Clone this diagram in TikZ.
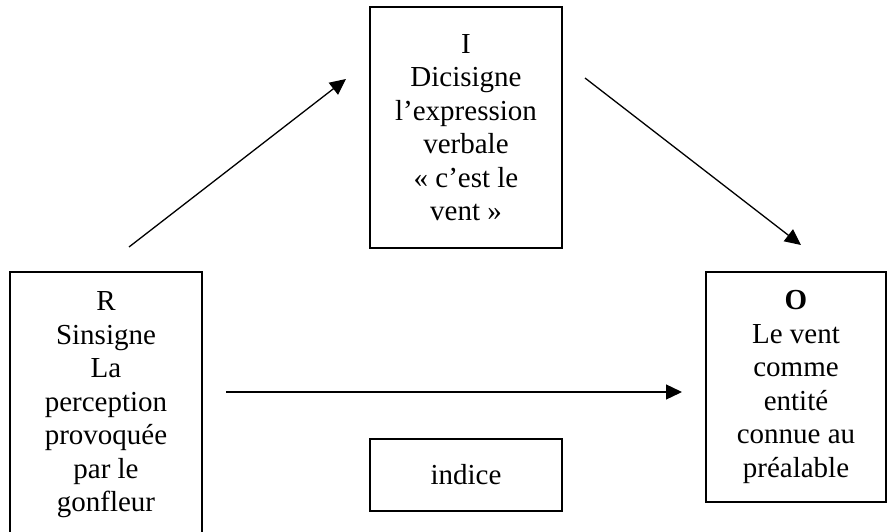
\documentclass[tikz,border=0pt]{standalone}
\usepackage{fontspec}
\setmainfont{Liberation Serif}
\usetikzlibrary{arrows.meta}
\begin{document}
\begin{tikzpicture}[x=1pt,y=-1pt,
  box/.style={draw, line width=1.4pt, align=center, inner sep=0pt,
    font=\fontsize{29}{33.5}\selectfont},
  conn/.style={line width=1.3pt, -{Triangle[length=16pt,width=15pt]}}]
\useasboundingbox (0,0) rectangle (887,532);
\node[box, minimum width=192pt, minimum height=266pt] (R) at (106,405)
  {R\\Sinsigne\\La\\perception\\provoquée\\par le\\gonfleur};
\node[box, minimum width=192pt, minimum height=241pt] (I) at (466,127.5)
  {I\\Dicisigne\\l’expression\\verbale\\« c’est le\\vent »};
\node[box, minimum width=180pt, minimum height=230pt] (O) at (796,387)
  {\textbf{O}\\Le vent\\comme\\entité\\connue au\\préalable};
\node[box, minimum width=192pt, minimum height=72pt] (ind) at (466,475)
  {indice};
\coordinate (a1s) at (129,247);
\coordinate (a1e) at (346,79);
\coordinate (a2s) at (585,78);
\coordinate (a2e) at (801,245);
\coordinate (a3s) at (226,392);
\coordinate (a3e) at (682,392);
\draw[conn] (a1s) -- (a1e);
\draw[conn] (a2s) -- (a2e);
\draw[conn] (a3s) -- (a3e);
\end{tikzpicture}
\end{document}
